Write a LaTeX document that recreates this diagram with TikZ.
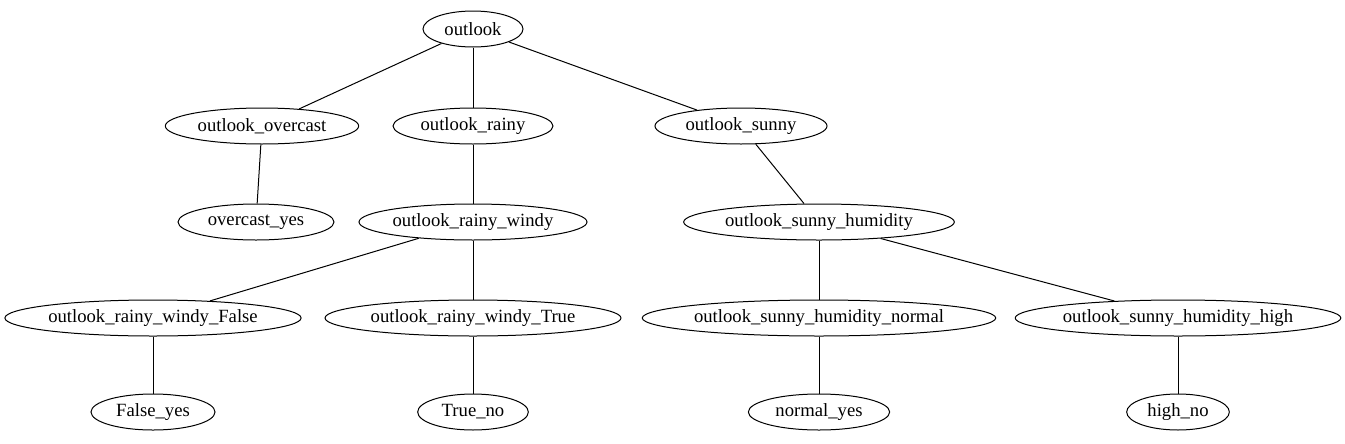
\documentclass[tikz,border=0pt]{standalone}
\usepackage{fontspec}
\setmainfont{Liberation Serif}
\usetikzlibrary{shapes.geometric}

\tikzset{
  leaf/.style={draw, ellipse, line width=0.75pt, inner sep=0pt, minimum height=27pt,
    font=\fontsize{14}{16}\selectfont},
  edge/.style={line width=0.75pt}
}

\begin{document}
\begin{tikzpicture}[x=0.75pt, y=-0.75pt]
        \useasboundingbox (0,0) rectangle (1345,443);

        \node[leaf, minimum width=75pt] (o) at (473, 29) {outlook};
        \node[leaf, minimum width=145pt] (ov) at (262, 126) {outlook\_overcast};
        \node[leaf, minimum width=120pt] (ra) at (473, 126) {outlook\_rainy};
        \node[leaf, minimum width=129pt] (su) at (741, 126) {outlook\_sunny};
        \node[leaf, minimum width=117pt] (ovy) at (256, 222) {overcast\_yes};
        \node[leaf, minimum width=171pt] (raw) at (473, 222) {outlook\_rainy\_windy};
        \node[leaf, minimum width=203pt] (suh) at (819, 222) {outlook\_sunny\_humidity};
        \node[leaf, minimum width=222pt] (rawf) at (153, 318) {outlook\_rainy\_windy\_False};
        \node[leaf, minimum width=222pt] (rawt) at (473, 318) {outlook\_rainy\_windy\_True};
        \node[leaf, minimum width=262pt] (suhn) at (819, 318) {outlook\_sunny\_humidity\_normal};
        \node[leaf, minimum width=242pt] (suhh) at (1178, 318) {outlook\_sunny\_humidity\_high};
        \node[leaf, minimum width=93pt] (fy) at (153, 412) {False\_yes};
        \node[leaf, minimum width=83pt] (tn) at (473, 412) {True\_no};
        \node[leaf, minimum width=106pt] (ny) at (819, 412) {normal\_yes};
        \node[leaf, minimum width=77pt] (hn) at (1178, 412) {high\_no};

        \draw[edge] (o) -- (ov);
        \draw[edge] (o) -- (ra);
        \draw[edge] (o) -- (su);
        \draw[edge] (ov) -- (ovy);
        \draw[edge] (ra) -- (raw);
        \draw[edge] (su) -- (suh);
        \draw[edge] (raw) -- (rawf);
        \draw[edge] (raw) -- (rawt);
        \draw[edge] (suh) -- (suhn);
        \draw[edge] (suh) -- (suhh);
        \draw[edge] (rawf) -- (fy);
        \draw[edge] (rawt) -- (tn);
        \draw[edge] (suhn) -- (ny);
        \draw[edge] (suhh) -- (hn);
    \end{tikzpicture}
\end{document}
